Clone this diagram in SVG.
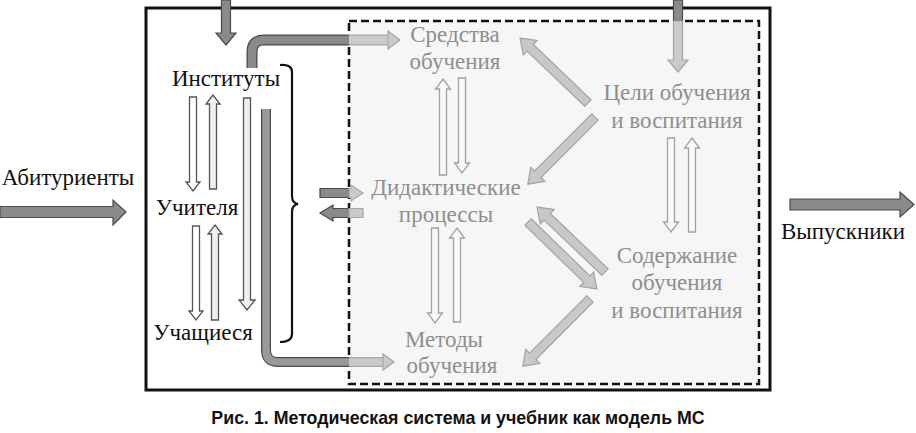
<svg xmlns="http://www.w3.org/2000/svg" width="916" height="433" viewBox="0 0 916 433">
<style>
.lbl{font-family:"Liberation Serif",serif;font-size:23px;fill:#111;text-anchor:middle}
.glbl{font-family:"Liberation Serif",serif;font-size:23px;fill:#8e8e8e;text-anchor:middle}
.cap{font-family:"Liberation Sans",Arial,sans-serif;font-size:17.8px;font-weight:bold;fill:#111;text-anchor:middle}
.dark{fill:#8a8a8a;stroke:#4a4a4a;stroke-width:1.2}
.light{fill:#cacaca;stroke:#a6a6a6;stroke-width:1.2}
.olk{fill:#ffffff;stroke:#555;stroke-width:1.3}
.olk2{fill:#efefef;stroke:#555;stroke-width:1.3}
.oll{fill:#f9f9f9;stroke:#a0a0a0;stroke-width:1.3}
.diag{fill:#c8c8c8;stroke:#a4a4a4;stroke-width:1.2}
</style>
<rect width="916" height="433" fill="#ffffff"/>
<g id="system-box">
<rect x="146" y="8" width="624" height="382" fill="#ffffff" stroke="#111" stroke-width="3"/>
</g>
<g id="inner-box">
<rect x="349" y="21" width="410" height="363" fill="#f6f6f6" stroke="#111" stroke-width="2.5" stroke-dasharray="8 4"/>
</g>
<g id="connectors">
<polygon class="dark" points="0,206.5 113,206.5 113,200 126,212 113,225 113,217.5 0,217.5"/>
<polygon class="dark" points="790,199 900,199 900,192 914,204.5 900,217 900,210 790,210"/>
<polygon class="dark" points="221.5,0 230.5,0 230.5,33 236,33 226,45 216,33 221.5,33"/>
<polygon class="dark" points="673.5,0 682.5,0 682.5,21 673.5,21"/>
<polygon class="light" points="673.5,21 682.5,21 682.5,60 688,60 678,72 668,60 673.5,60"/>
<path d="M252,68 V52 Q252,40 264,40 H349" fill="none" stroke="#4a4a4a" stroke-width="11"/>
<path d="M252,68 V52 Q252,40 264,40 H349" fill="none" stroke="#8a8a8a" stroke-width="8.5"/>
<path d="M349,40 H389" fill="none" stroke="#a6a6a6" stroke-width="11"/>
<path d="M349,40 H389" fill="none" stroke="#cacaca" stroke-width="8.5"/>
<polygon class="light" points="388,31 400,40 388,49"/>
<path d="M266,109 V350 Q266,362 278,362 H349" fill="none" stroke="#4a4a4a" stroke-width="10"/>
<path d="M266,109 V350 Q266,362 278,362 H349" fill="none" stroke="#999" stroke-width="7.5"/>
<path d="M349,362 H384" fill="none" stroke="#a6a6a6" stroke-width="10"/>
<path d="M349,362 H384" fill="none" stroke="#cacaca" stroke-width="7.5"/>
<polygon class="light" points="383,354 394,362 383,370"/>
<polygon class="olk" points="189.5,97 196.5,97 196.5,182 200,182 193,191 186,182 189.5,182"/>
<polygon class="olk2" points="213,95 220,104 216.5,104 216.5,189 209.5,189 209.5,104 206,104"/>
<polygon class="olk" points="192.5,226 199.5,226 199.5,311 203,311 196,320 189,311 192.5,311"/>
<polygon class="olk2" points="215,225 222,234 218.5,234 218.5,320 211.5,320 211.5,234 208,234"/>
<polygon class="olk2" points="243.5,98 250.5,98 250.5,300 255,300 247,310 239,300 243.5,300"/>
<path d="M280,65 Q292,64 292,72 V196 Q292,203 298,204 Q292,205 292,212 V334 Q292,342 280,342" fill="none" stroke="#111" stroke-width="2.2"/>
<polygon class="dark" points="320,188.5 349,188.5 349,197.5 320,197.5"/>
<polygon class="light" points="349,188.5 351,188.5 351,185 363,193 351,201 351,197.5 349,197.5"/>
<polygon class="dark" points="349,208.5 333,208.5 333,205 320,213 333,221 333,217.5 349,217.5"/>
<polygon class="light" points="349,208.5 363,208.5 363,217.5 349,217.5"/>
<polygon class="oll" points="443,79 450.5,89 446.5,89 446.5,175 439.5,175 439.5,89 435.5,89"/>
<polygon class="oll" points="458.5,78 465.5,78 465.5,163 469.5,163 462,173 454.5,163 458.5,163"/>
<polygon class="oll" points="431.5,228 438.5,228 438.5,313 442.5,313 435,323 427.5,313 431.5,313"/>
<polygon class="oll" points="457,228 464.5,238 460.5,238 460.5,322 453.5,322 453.5,238 449.5,238"/>
<polygon class="oll" points="667.5,138 674.5,138 674.5,222 678.5,222 671,232 663.5,222 667.5,222"/>
<polygon class="oll" points="692,138 699.5,148 695.5,148 695.5,232 688.5,232 688.5,148 684.5,148"/>
<polygon class="diag" transform="translate(588,103) rotate(-136.3)" points="0,-4.5 80,-4.5 80,-10 94,0 80,10 80,4.5 0,4.5"/>
<polygon class="diag" transform="translate(595,117) rotate(135)" points="0,-4.5 81,-4.5 81,-10 95,0 81,10 81,4.5 0,4.5"/>
<polygon class="diag" transform="translate(605,272) rotate(-136.3)" points="0,-4.5 80,-4.5 80,-10 94,0 80,10 80,4.5 0,4.5"/>
<polygon class="diag" transform="translate(528,222) rotate(44.2)" points="0,-4.5 82,-4.5 82,-10 96,0 82,10 82,4.5 0,4.5"/>
<polygon class="diag" transform="translate(590,299) rotate(135)" points="0,-4.5 81,-4.5 81,-10 95,0 81,10 81,4.5 0,4.5"/>
</g>
<g id="abiturienty"><text class="lbl" x="68" y="185">Абитуриенты</text></g>
<g id="vypuskniki"><text class="lbl" x="843" y="239">Выпускники</text></g>
<g id="instituty"><text class="lbl" x="226" y="86">Институты</text></g>
<g id="uchitelya"><text class="lbl" x="197" y="215">Учителя</text></g>
<g id="uchashchiesya"><text class="lbl" x="203" y="340">Учащиеся</text></g>
<g id="sredstva"><text class="glbl" x="455" y="42">Средства</text><text class="glbl" x="455" y="69">обучения</text></g>
<g id="tseli"><text class="glbl" x="677" y="100">Цели обучения</text><text class="glbl" x="677" y="128">и воспитания</text></g>
<g id="protsessy"><text class="glbl" x="446" y="195">Дидактические</text><text class="glbl" x="446" y="222">процессы</text></g>
<g id="soderzhanie"><text class="glbl" x="677" y="263">Содержание</text><text class="glbl" x="677" y="290">обучения</text><text class="glbl" x="677" y="318">и воспитания</text></g>
<g id="metody"><text class="glbl" x="444" y="347">Методы</text><text class="glbl" x="452" y="373">обучения</text></g>
<g id="caption"><text class="cap" x="458" y="424">Рис. 1. Методическая система и учебник как модель МС</text></g>
</svg>
